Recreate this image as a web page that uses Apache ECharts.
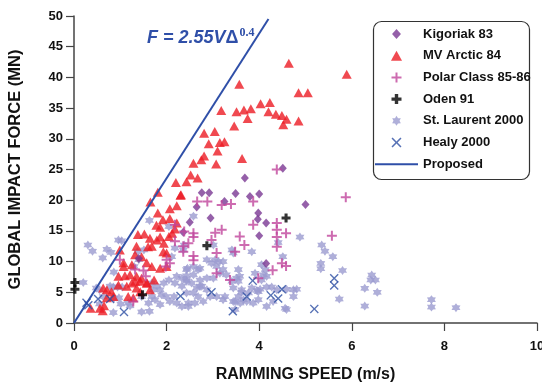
<!DOCTYPE html>
<html><head><meta charset="utf-8">
<script src="https://cdn.jsdelivr.net/npm/echarts@6/dist/echarts.min.js"></script>
<style>html,body{margin:0;padding:0;background:#fff}#c{width:542px;height:383px}</style>
</head><body><div id="c"></div>
<script>
// ---- data (speed m/s, force MN) ----
const kigoriak = [[2.76,21.2],[2.92,21.2],[3.49,21.1],[3.69,23.6],[4.51,25.2],[3.80,20.6],[4.0,21.0],[5.0,19.3],[3.25,19.8],[2.65,18.9],[2.95,17.1],[3.98,17.9],[3.97,16.9],[4.15,16.3],[2.5,16.4],[2.36,14.8],[4.0,14.2],[4.15,9.7],[1.40,10.5]];
const mvArctic = [[4.64,42.3],[5.89,40.5],[3.57,38.9],[4.85,37.5],[5.05,37.5],[4.03,35.7],[4.23,35.9],[3.18,34.6],[3.51,34.4],[3.67,34.7],[3.82,34.9],[4.20,34.4],[4.36,34.0],[4.49,33.8],[4.59,33.2],[4.52,32.3],[4.85,32.9],[3.75,33.3],[3.46,32.1],[2.81,30.9],[3.04,31.2],[2.91,29.2],[3.15,29.4],[3.25,29.5],[3.10,28.0],[2.81,27.2],[2.75,26.6],[3.63,26.8],[2.58,26.0],[3.07,25.9],[2.52,24.1],[2.67,23.6],[2.43,23.0],[2.31,20.9],[2.20,22.9],[1.81,21.3],[2.30,20.8],[1.65,19.7],[2.07,18.6],[2.22,19.1],[1.81,17.9],[1.92,16.8],[2.07,17.0],[2.22,16.3],[1.78,15.9],[1.86,15.6],[2.18,15.3],[2.12,14.6],[1.38,14.4],[1.52,14.5],[1.64,13.8],[1.79,13.5],[1.86,14.0],[1.60,12.4],[1.68,12.5],[1.35,12.5],[0.99,11.9],[1.93,11.6],[2.0,11.4],[1.32,11.1],[1.46,10.8],[1.07,9.8],[1.25,9.5],[1.07,9.2],[1.57,9.8],[1.68,9.2],[1.86,8.9],[2.0,9.2],[0.96,7.6],[1.10,7.7],[1.21,7.85],[1.35,7.6],[1.46,7.3],[0.96,6.2],[1.14,6.0],[1.25,6.5],[1.35,5.7],[1.43,5.1],[1.57,6.5],[1.64,5.4],[0.63,5.7],[0.71,5.4],[0.81,5.1],[0.85,4.3],[0.71,4.1],[0.56,2.4],[0.62,2.0],[0.36,2.4],[1.17,4.3],[1.28,4.1],[1.32,6.8],[1.43,6.8],[1.94,13.0],[2.05,14.1],[1.73,7.0],[1.58,6.5],[0.65,2.8]];
const polarClass = [[4.38,25.0],[3.87,19.8],[2.66,19.8],[2.88,19.8],[3.19,19.2],[3.39,19.4],[5.87,20.5],[3.87,16.0],[4.38,16.3],[4.38,15.2],[4.38,14.0],[4.38,12.4],[4.58,14.6],[5.57,14.2],[4.49,9.75],[4.58,9.3],[4.29,8.6],[3.98,7.3],[3.58,14.1],[3.68,12.7],[3.19,15.2],[3.05,14.7],[2.58,14.6],[2.58,14.0],[2.47,13.0],[2.97,13.5],[2.36,11.6],[2.58,10.9],[2.58,10.2],[3.08,11.4],[3.48,11.6],[3.37,7.0],[3.08,8.1],[2.18,16.0],[2.38,14.9],[2.18,13.3],[2.36,12.5],[2.0,10.3],[2.07,9.75],[0.99,10.3],[1.32,8.7],[1.28,3.5],[1.50,8.55],[1.55,7.6],[1.98,9.2]];
const oden = [[0.02,6.6],[0.02,5.5],[1.48,4.6],[2.87,12.6],[4.58,17.1]];
const stLaurent = [[0.20,6.6],[0.30,12.7],[0.40,11.7],[0.71,12.0],[0.80,11.5],[0.62,10.6],[0.96,13.5],[1.03,13.4],[0.86,8.3],[0.48,5.7],[0.55,5.4],[0.78,6.0],[0.85,5.85],[0.94,5.85],[1.04,5.85],[0.63,4.3],[0.55,3.1],[0.86,4.0],[0.97,4.1],[0.85,1.7],[1.01,3.1],[1.21,2.8],[1.17,3.25],[1.46,1.8],[1.63,1.9],[1.46,4.3],[1.68,4.3],[1.68,6.5],[1.71,5.4],[1.79,6.0],[1.86,5.4],[1.89,4.6],[1.61,3.25],[1.75,3.8],[1.86,3.0],[1.99,4.3],[2.07,3.5],[2.16,4.3],[2.22,3.25],[2.33,2.7],[2.47,3.25],[2.18,6.5],[2.33,6.0],[2.43,6.8],[2.54,6.5],[2.65,5.7],[2.76,6.0],[2.87,5.4],[2.68,4.3],[2.79,3.5],[2.94,4.3],[3.08,4.3],[3.22,3.8],[3.44,3.5],[3.59,3.25],[3.73,3.5],[3.87,3.25],[3.98,3.8],[2.22,7.6],[2.33,7.3],[2.43,7.7],[2.72,7.0],[2.58,7.85],[2.87,7.3],[3.08,9.2],[3.12,10.0],[3.22,8.7],[3.15,8.1],[3.29,7.85],[3.01,7.3],[3.41,6.8],[3.51,7.3],[3.44,5.7],[3.62,5.4],[3.84,5.7],[3.98,5.1],[3.41,11.9],[3.44,11.4],[3.84,11.6],[2.87,10.3],[2.97,9.75],[2.43,8.7],[2.58,9.2],[2.68,8.7],[2.18,12.2],[2.36,11.9],[2.11,10.8],[1.63,16.7],[2.05,15.7],[2.58,17.4],[2.38,12.7],[3.01,12.7],[4.41,13.1],[2.45,8.9],[2.72,8.9],[3.05,10.3],[3.22,10.0],[3.55,8.7],[3.58,7.6],[3.55,6.8],[4.05,9.5],[4.13,8.7],[4.16,7.6],[4.05,7.0],[2.43,7.0],[2.72,6.0],[2.58,4.9],[2.43,4.9],[2.47,2.7],[2.61,3.25],[3.26,4.3],[3.55,4.3],[3.66,3.8],[3.62,5.0],[3.95,5.3],[3.77,4.9],[4.02,5.5],[4.16,5.85],[4.27,5.85],[4.38,5.4],[4.59,5.5],[4.74,5.4],[4.16,2.7],[4.30,3.5],[4.56,2.4],[4.81,5.5],[4.74,4.3],[3.48,3.5],[3.48,2.2],[4.59,2.2],[4.88,14.0],[5.35,12.7],[5.42,11.7],[5.59,10.8],[5.33,9.7],[5.33,8.85],[5.80,8.55],[6.43,7.8],[6.41,7.0],[6.51,7.0],[6.55,5.0],[6.28,5.65],[6.28,2.75],[5.73,3.9],[7.72,3.8],[7.72,2.6],[8.25,2.5],[4.51,10.8],[3.91,8.1],[4.09,7.85],[1.37,11.6],[1.51,11.9],[1.30,9.2],[1.40,10.3],[1.94,6.5],[2.05,7.0]];
const healy = [[0.27,3.3],[0.31,2.9],[0.52,3.9],[0.78,3.9],[1.08,1.8],[2.30,4.4],[2.97,5.0],[3.43,1.9],[3.73,4.3],[3.86,6.9],[4.25,4.5],[4.41,4.0],[4.49,5.5],[5.19,2.3],[5.62,7.3],[5.62,6.1]];
const proposed = [[0,0],[4.2,49.5]];
const seriesNames = ['Kigoriak 83','MV Arctic 84','Polar Class 85-86','Oden 91','St. Laurent 2000','Healy 2000','Proposed'];
const xTicks = {min:0, max:10, interval:2};
const yTicks = {min:0, max:50, interval:5};

const STAR = 'path://M5,0L6.5,2.4L9.33,2.5L8,5L9.33,7.5L6.5,7.6L5,10L3.5,7.6L0.67,7.5L2,5L0.67,2.5L3.5,2.4Z';
const PLUS = 'path://M4,0H6V4H10V6H6V10H4V6H0V4H4Z';
const BPLUS = 'path://M3.3,0H6.7V3.3H10V6.7H6.7V10H3.3V6.7H0V3.3H3.3Z';
const XMARK = 'path://M1.1,0L5,3.9L8.9,0L10,1.1L6.1,5L10,8.9L8.9,10L5,6.1L1.1,10L0,8.9L3.9,5L0,1.1Z';
const TRI = 'path://M5,0L10,9L0,9Z';
const DIAM = 'path://M4,0L8,4.5L4,9L0,4.5Z';
const LINEICON = 'path://M0,0H44V2H0Z';
const FONT = 'Liberation Sans, Arial, sans-serif';
const icons = [DIAM, TRI, PLUS, BPLUS, STAR, XMARK, LINEICON];

const chart = echarts.init(document.getElementById('c'), null, {renderer:'canvas'});
chart.setOption({
  animation:false,
  backgroundColor:'#fff',
  title:{
    left:147, top:27, padding:0,
    text:'{a|F = 2.55V}{d|Δ}{b|0.4}',
    textStyle:{rich:{
      a:{fontFamily:FONT, fontSize:18, fontWeight:'bold', fontStyle:'italic', color:'#2F4FA8', lineHeight:22},
      d:{fontFamily:FONT, fontSize:18, fontWeight:'bold', color:'#2F4FA8', lineHeight:22},
      b:{fontFamily:'Liberation Serif, serif', fontSize:12, color:'#2F4FA8', verticalAlign:'top', lineHeight:10, padding:[0,0,0,1]}
    }}
  },
  graphic:[{type:'rect', shape:{x:373.5, y:21.5, width:156, height:158, r:8}, style:{fill:'#fff', stroke:'#333', lineWidth:1.2}, z:3}],
  legend:{
    data:seriesNames.map((n,i)=>({name:n, icon:icons[i]})),
    orient:'vertical', left:375, top:26, padding:0,
    itemWidth:43, itemHeight:10, itemGap:5.7,
    textStyle:{fontFamily:FONT, fontSize:13, fontWeight:'bold', color:'#111', lineHeight:16},
    z:5
  },
  grid:{left:74, right:5, top:16, bottom:60, outerBoundsMode:'none', containLabel:false},
  xAxis:{
    type:'value', min:xTicks.min, max:xTicks.max, interval:xTicks.interval,
    name:'RAMMING SPEED (m/s)', nameLocation:'middle', nameGap:44,
    nameTextStyle:{fontFamily:FONT, fontSize:16, fontWeight:'bold', color:'#111'},
    axisLine:{onZero:false, lineStyle:{color:'#444', width:1.5}},
    axisTick:{show:true, length:8, lineStyle:{color:'#444', width:1.2}},
    axisLabel:{fontFamily:FONT, fontSize:13, fontWeight:'bold', color:'#111', margin:17},
    splitLine:{show:false}
  },
  yAxis:{
    type:'value', min:yTicks.min, max:yTicks.max, interval:yTicks.interval,
    name:'GLOBAL IMPACT FORCE (MN)', nameLocation:'middle', nameGap:50, nameRotate:90,
    nameTextStyle:{fontFamily:FONT, fontSize:16.5, fontWeight:'bold', color:'#111'},
    axisLine:{show:true, onZero:false, lineStyle:{color:'#444', width:1.5}},
    axisTick:{show:true, length:8, lineStyle:{color:'#444', width:1.2}},
    axisLabel:{fontFamily:FONT, fontSize:13, fontWeight:'bold', color:'#111', margin:11},
    splitLine:{show:false}
  },
  series:[
    {name:'St. Laurent 2000', type:'scatter', data:stLaurent, symbol:STAR, symbolSize:9, itemStyle:{color:'#9B9BD0'}, z:2},
    {name:'MV Arctic 84', type:'scatter', data:mvArctic, symbol:TRI, symbolSize:[10,9], itemStyle:{color:'#EC1C24'}, z:2},
    {name:'Kigoriak 83', type:'scatter', data:kigoriak, symbol:DIAM, symbolSize:[8,9], itemStyle:{color:'#7A3894'}, z:2},
    {name:'Polar Class 85-86', type:'scatter', data:polarClass, symbol:PLUS, symbolSize:10, itemStyle:{color:'#C1469C'}, z:2},
    {name:'Healy 2000', type:'scatter', data:healy, symbol:XMARK, symbolSize:9, itemStyle:{color:'#2C4DA3'}, z:2},
    {name:'Oden 91', type:'scatter', data:oden, symbol:BPLUS, symbolSize:9, itemStyle:{color:'#000'}, z:2},
    {name:'Proposed', type:'line', data:proposed, symbol:'none', lineStyle:{color:'#2F4FA8', width:2}, itemStyle:{color:'#2F4FA8'}, z:3}
  ]
});
</script></body></html>
